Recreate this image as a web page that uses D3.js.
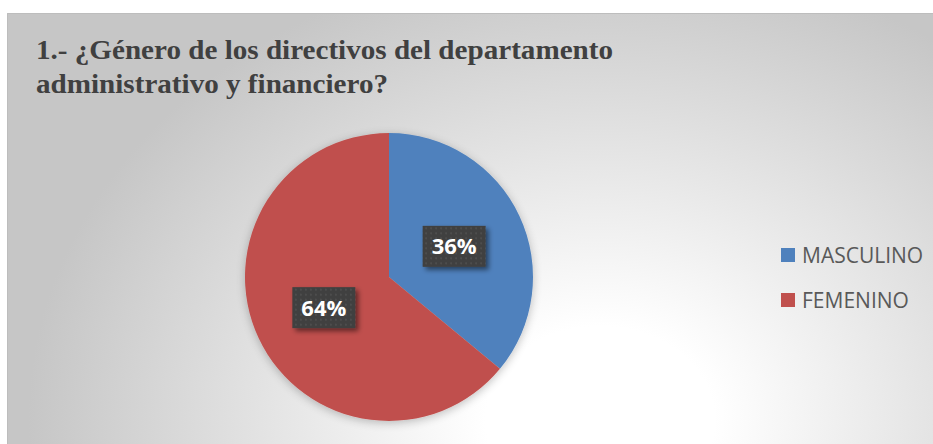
<!DOCTYPE html>
<html>
<head>
<meta charset="utf-8">
<script src="https://cdn.jsdelivr.net/npm/d3@7/dist/d3.min.js"></script>
<style>
  html, body { margin: 0; padding: 0; background: #ffffff; }
  svg { display: block; }
</style>
</head>
<body>
<svg id="chart" width="933" height="444"></svg>
<script>
// Survey answers: gender of the administrative & financial department directors
const categories = ["MASCULINO", "FEMENINO"];
const values = [36, 64];
const colors = ["#4f81bd", "#c0504d"];
const titleLines = [
  "1.- ¿Género de los directivos del departamento",
  "administrativo y financiero?"
];

const svg = d3.select("#chart");
const W = 933, H = 444;
const defs = svg.append("defs");

// Chart area background: soft radial gradient, bright near the bottom centre
const bg = defs.append("radialGradient")
  .attr("id", "bgGrad")
  .attr("gradientUnits", "userSpaceOnUse")
  .attr("cx", 600).attr("cy", 420).attr("r", 520)
  .attr("gradientTransform", "translate(600,420) scale(1.1,0.9) translate(-600,-420)");
bg.append("stop").attr("offset", "0%").attr("stop-color", "#ffffff");
bg.append("stop").attr("offset", "20%").attr("stop-color", "#ffffff");
bg.append("stop").attr("offset", "100%").attr("stop-color", "#c6c6c6");

svg.append("rect")
  .attr("x", 7).attr("y", 13)
  .attr("width", W - 7).attr("height", H - 13)
  .attr("fill", "url(#bgGrad)");
svg.append("path")
  .attr("d", `M7.5,${H} V13.5 H${W}`)
  .attr("fill", "none")
  .attr("stroke", "#bdbdbd")
  .attr("stroke-width", 1);

// Title
const title = svg.append("text")
  .attr("font-family", "'Liberation Serif', 'Times New Roman', serif")
  .attr("font-weight", "bold")
  .attr("font-size", 27.5)
  .attr("fill", "#404040");
const titleWidths = [577, 352];
titleLines.forEach((t, i) => {
  title.append("tspan")
    .attr("x", 36)
    .attr("y", 59 + i * 34)
    .attr("textLength", titleWidths[i])
    .attr("lengthAdjust", "spacingAndGlyphs")
    .text(t);
});

// Soft shadow around the pie
const pieShadow = defs.append("filter").attr("id", "pieShadow")
  .attr("x", "-20%").attr("y", "-20%").attr("width", "140%").attr("height", "140%");
pieShadow.append("feGaussianBlur").attr("in", "SourceAlpha").attr("stdDeviation", 5).attr("result", "b");
pieShadow.append("feOffset").attr("in", "b").attr("dx", 0).attr("dy", 2).attr("result", "o");
pieShadow.append("feComponentTransfer").attr("in", "o").attr("result", "s")
  .append("feFuncA").attr("type", "linear").attr("slope", 0.25);
const pm = pieShadow.append("feMerge");
pm.append("feMergeNode").attr("in", "s");
pm.append("feMergeNode").attr("in", "SourceGraphic");

// Pie
const cx = 389, cy = 277, R = 144;
const pie = d3.pie().sort(null).value(d => d);
const arcs = pie(values);
const arc = d3.arc().innerRadius(0).outerRadius(R);

const g = svg.append("g").attr("transform", `translate(${cx},${cy})`);
g.append("g").attr("filter", "url(#pieShadow)")
  .selectAll("path")
  .data(arcs)
  .join("path")
  .attr("d", arc)
  .attr("fill", (d, i) => colors[i]);

// Data label boxes: dark dotted fill with a drop shadow
const dots = defs.append("pattern").attr("id", "dots")
  .attr("patternUnits", "userSpaceOnUse")
  .attr("width", 5).attr("height", 5);
dots.append("rect").attr("width", 5).attr("height", 5).attr("fill", "#3f3f3f");
dots.append("rect").attr("x", 1).attr("y", 1).attr("width", 2).attr("height", 2).attr("fill", "#4d4d4d");

const boxShadow = defs.append("filter").attr("id", "boxShadow")
  .attr("x", "-30%").attr("y", "-30%").attr("width", "160%").attr("height", "160%");
boxShadow.append("feGaussianBlur").attr("in", "SourceAlpha").attr("stdDeviation", 2.5).attr("result", "b");
boxShadow.append("feOffset").attr("in", "b").attr("dx", 3).attr("dy", 3).attr("result", "o");
boxShadow.append("feComponentTransfer").attr("in", "o").attr("result", "s")
  .append("feFuncA").attr("type", "linear").attr("slope", 0.5);
const bm = boxShadow.append("feMerge");
bm.append("feMergeNode").attr("in", "s");
bm.append("feMergeNode").attr("in", "SourceGraphic");

const bw = 63, bh = 41;
const labels = g.selectAll("g.lbl")
  .data(arcs)
  .join("g")
  .attr("class", "lbl")
  .attr("transform", d => {
    const [x, y] = arc.centroid(d);
    return `translate(${x},${y})`;
  });
labels.append("rect")
  .attr("x", -bw / 2).attr("y", -bh / 2)
  .attr("width", bw).attr("height", bh)
  .attr("fill", "url(#dots)")
  .attr("filter", "url(#boxShadow)");
labels.append("text")
  .attr("text-anchor", "middle")
  .attr("dy", "0.36em")
  .attr("font-family", "'Open Sans', sans-serif")
  .attr("font-weight", "bold")
  .attr("font-size", 22)
  .attr("fill", "#ffffff")
  .text(d => d.data + "%");

// Legend
const legend = svg.append("g").attr("transform", "translate(781,248)");
const items = legend.selectAll("g")
  .data(categories)
  .join("g")
  .attr("transform", (d, i) => `translate(0,${i * 45})`);
items.append("rect")
  .attr("width", 14).attr("height", 14)
  .attr("fill", (d, i) => colors[i]);
items.append("text")
  .attr("x", 21).attr("y", 15)
  .attr("font-family", "'Open Sans', sans-serif")
  .attr("font-size", 21)
  .attr("fill", "#595959")
  .text(d => d);
</script>
</body>
</html>
